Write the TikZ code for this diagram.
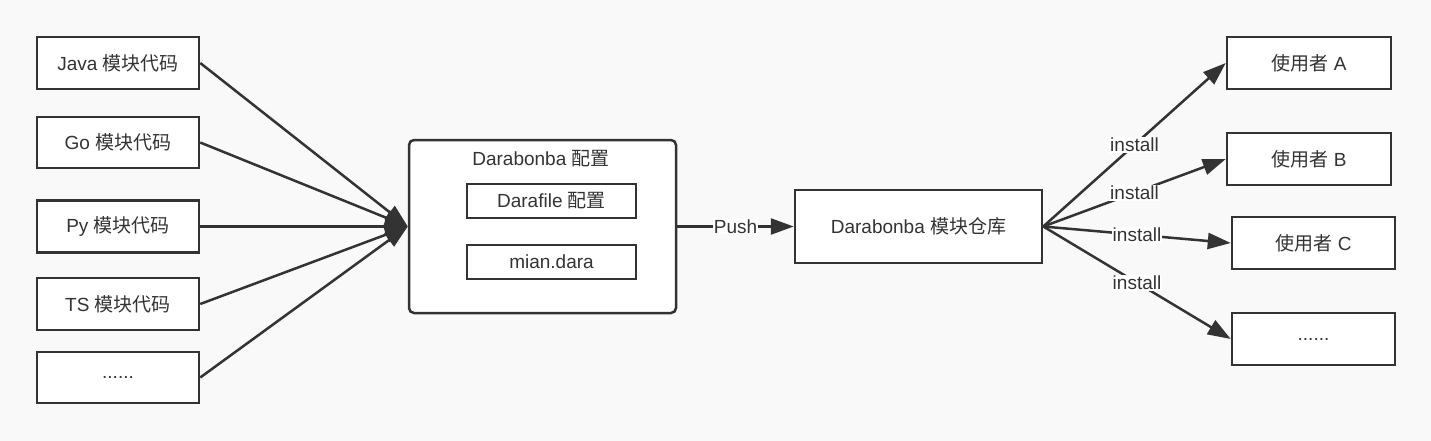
\documentclass[tikz,border=0pt]{standalone}
\usepackage{fontspec}
\setmainfont{Liberation Sans}
\newfontfamily\cjk{Noto Sans CJK SC}
\usetikzlibrary{arrows.meta}
\definecolor{ink}{HTML}{333333}
\definecolor{bg}{HTML}{F9F9F9}
\begin{document}
\begin{tikzpicture}[x=1pt,y=-1pt,
  box/.style={draw=ink, line width=2.5pt, fill=white, text=ink, inner sep=0pt,
    font=\fontsize{19}{23}\selectfont},
  conn/.style={draw=ink, line width=2.5pt, -{Triangle[length=23pt,width=16pt]}},
  lbl/.style={fill=white, text=ink, inner sep=1pt, font=\fontsize{19}{23}\selectfont}]
\fill[bg] (0,0) rectangle (1431,441);
\useasboundingbox (0,0) rectangle (1431,441);
% left boxes
\node[box, minimum width=162pt, minimum height=52pt] (java) at (118,63) {Java {\cjk 模块代码}};
\node[box, minimum width=162pt, minimum height=51pt] (go) at (118,142.5) {Go {\cjk 模块代码}};
\node[box, minimum width=162pt, minimum height=52pt] (py) at (118,226.5) {Py {\cjk 模块代码}};
\node[box, minimum width=162pt, minimum height=52pt] (ts) at (118,304) {TS {\cjk 模块代码}};
\node[box, minimum width=162pt, minimum height=51pt] (ldots) at (118,377.5) {......};
% config box
\node[box, rounded corners=5pt, minimum width=267pt, minimum height=173pt] (cfg) at (542.5,226.5) {};
\node[text=ink, font=\fontsize{19}{23}\selectfont, inner sep=0pt] (cfgtitle) at (541,159) {Darabonba {\cjk 配置}};
\node[box, minimum width=169pt, minimum height=34pt] (darafile) at (551.5,201) {Darafile {\cjk 配置}};
\node[box, minimum width=169pt, minimum height=34pt] (mian) at (551.5,262) {mian.dara};
% repo
\node[box, minimum width=247pt, minimum height=73pt] (repo) at (918.5,226.5) {Darabonba {\cjk 模块仓库}};
% users
\node[box, minimum width=164pt, minimum height=52pt] (ua) at (1309,63) {{\cjk 使用者} A};
\node[box, minimum width=164pt, minimum height=52pt] (ub) at (1309,159) {{\cjk 使用者} B};
\node[box, minimum width=163pt, minimum height=52pt] (uc) at (1313.5,243) {{\cjk 使用者} C};
\node[box, minimum width=163pt, minimum height=52pt] (ud) at (1313.5,339) {......};
% left arrows
\foreach \s in {java,go,py,ts,ldots}
  \draw[conn] (\s.east) -- (cfg.west);
% push
\draw[conn] (cfg.east) -- (repo.west) node[lbl, midway] {Push};
% installs
\foreach \t in {ua,ub,uc,ud}
  \draw[conn] (repo.east) -- (\t.west) node[lbl, midway] {install};
\end{tikzpicture}
\end{document}
